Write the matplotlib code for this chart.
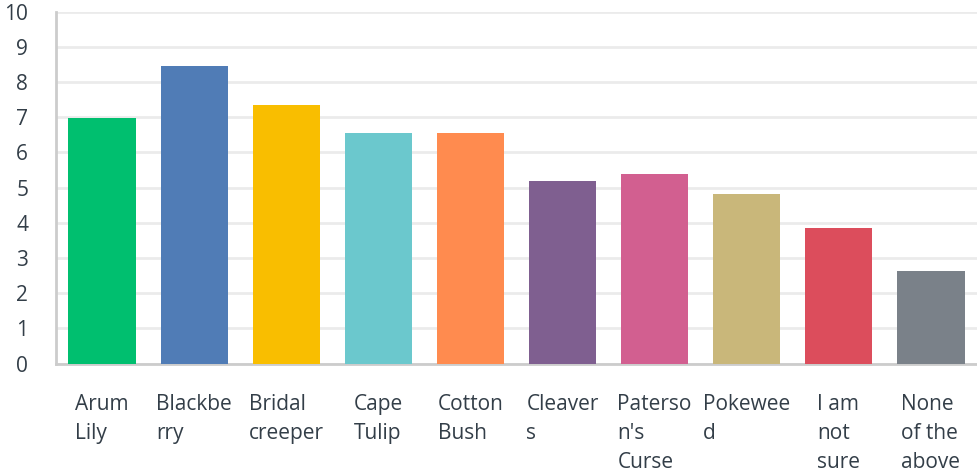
import matplotlib
matplotlib.use("Agg")
import matplotlib.pyplot as plt

# weeds survey, average score per option
categories = ["Arum\nLily", "Blackbe\nrry", "Bridal\ncreeper", "Cape\nTulip",
              "Cotton\nBush", "Cleaver\ns", "Paterso\nn's\nCurse", "Pokewee\nd",
              "I am\nnot\nsure", "None\nof the\nabove"]
values = [6.98, 8.45, 7.34, 6.55, 6.55, 5.18, 5.38, 4.81, 3.85, 2.63]
colors = ["#00bf6f", "#507cb6", "#f9be00", "#6bc8cd", "#ff8b4f",
          "#7f5f90", "#d25f90", "#c9b77a", "#dc4d5c", "#7a8189"]
yticks = list(range(0, 11))

plt.rcParams['font.family'] = ['Open Sans', 'DejaVu Sans']
text_color = "#333e48"

fig = plt.figure(figsize=(9.77, 4.75), dpi=100)
ax = fig.add_axes([0.0573, 0.2347, 0.9427, 0.741])

x = list(range(len(categories)))
ax.bar(x, values, width=0.73, color=colors, zorder=3)

ax.set_xlim(-0.5, len(categories) - 0.5)
ax.set_ylim(0, 10)
ax.set_yticks(yticks)
ax.set_yticklabels([str(t) for t in yticks])
ax.yaxis.grid(True, color="#ebebeb", linewidth=2, zorder=0)
ax.set_axisbelow(True)

ax.set_xticks(x)
ax.set_xticklabels(categories, ha="center", multialignment="left",
                   linespacing=1.5)

ax.tick_params(axis="x", length=0, pad=22, labelsize=15, labelcolor=text_color)
ax.tick_params(axis="y", length=0, pad=20, labelsize=15, labelcolor=text_color)

for side in ["top", "right"]:
    ax.spines[side].set_visible(False)
for side in ["left", "bottom"]:
    ax.spines[side].set_color("#cccccc")
    ax.spines[side].set_linewidth(2)

fig.savefig("out.png", dpi=100)
